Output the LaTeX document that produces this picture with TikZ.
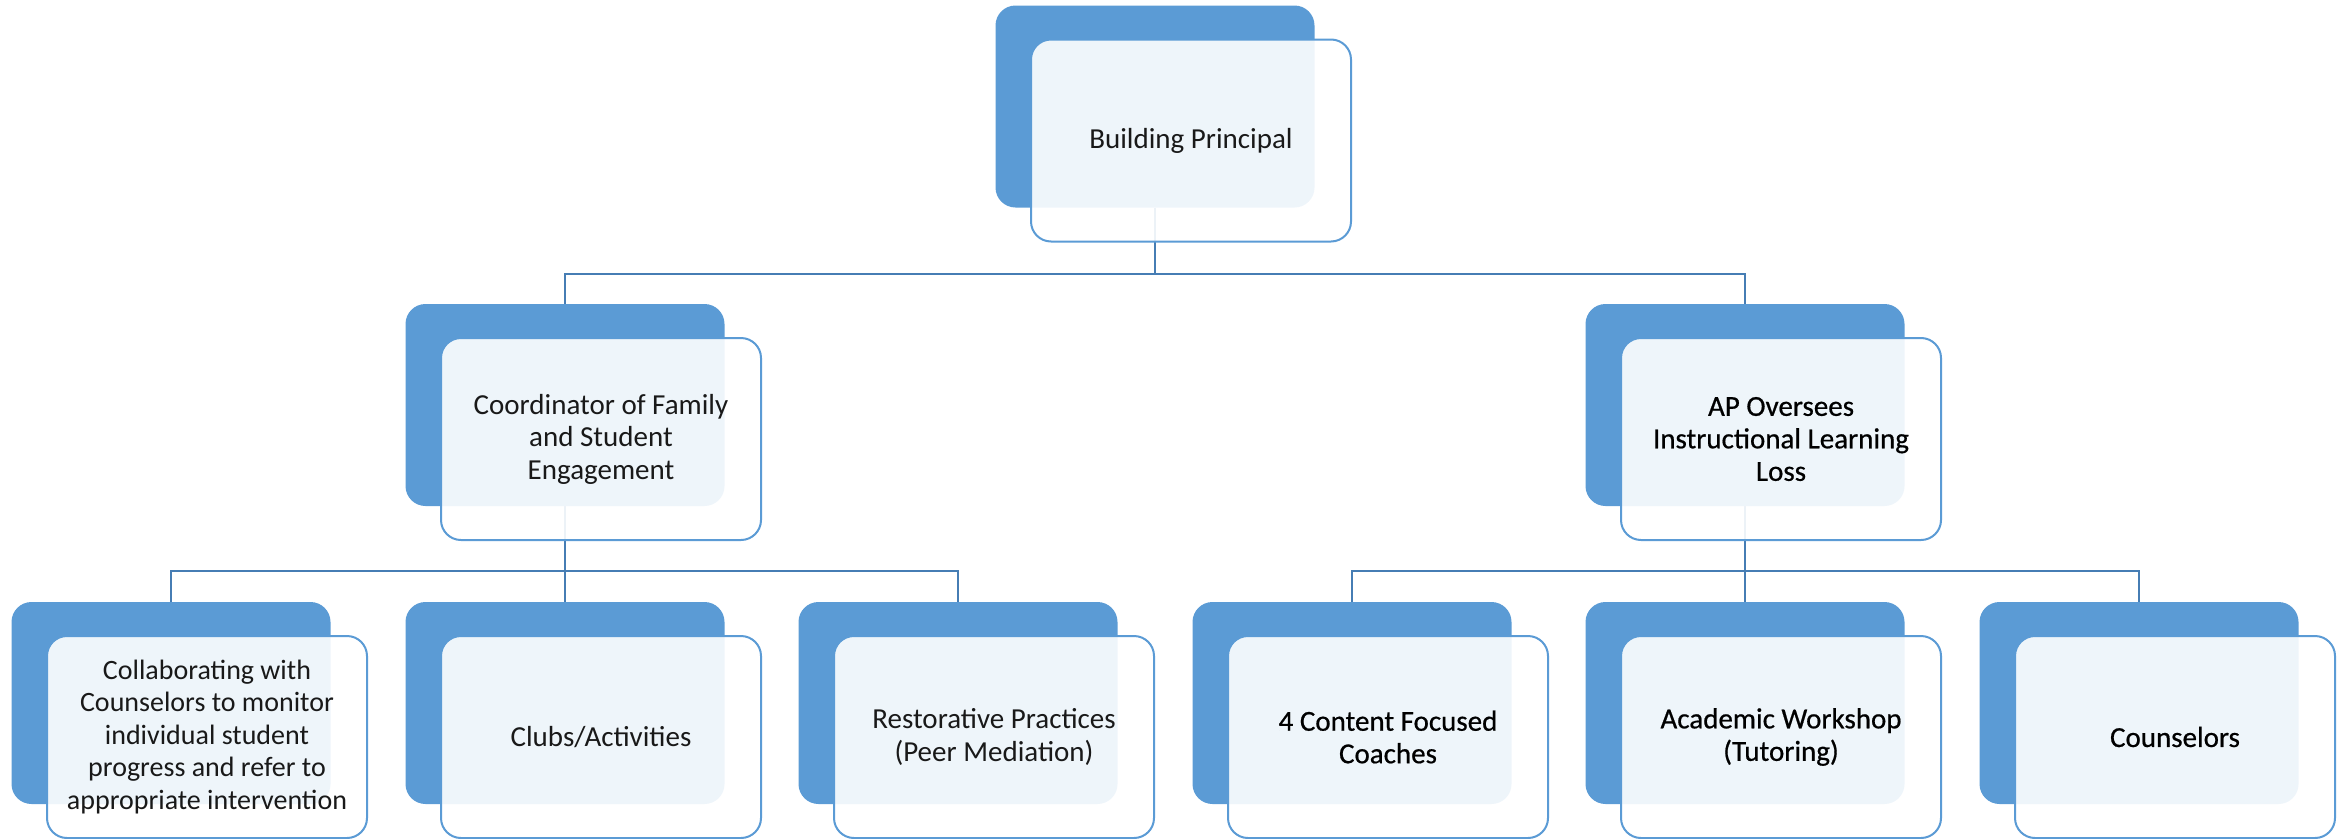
\documentclass[tikz,border=0pt]{standalone}
\usepackage{fontspec}
\setmainfont{Carlito}
\newfontfamily\heavyfont{Carlito}[FakeBold=0.6]
\definecolor{boxblue}{RGB}{91,155,213}
\definecolor{linkblue}{RGB}{70,125,180}
\definecolor{txtdark}{RGB}{0,0,0}
\definecolor{txtlight}{RGB}{25,25,25}
\pgfdeclarelayer{background}
\pgfsetlayers{background,main}
\begin{document}
\begin{tikzpicture}[x=1pt,y=-1pt,
  back/.style={fill=boxblue, rounded corners=20pt, minimum width=319pt, minimum height=202pt, inner sep=0pt},
  front/.style={draw=boxblue, line width=2pt, fill=white, fill opacity=0.9, text opacity=1, rounded corners=20pt, minimum width=320pt, minimum height=202pt, inner sep=0pt, align=center, font=\fontsize{29}{32.5}\selectfont},
  lighttext/.style={text=txtlight},
  darktext/.style={text=txtdark, font=\heavyfont\fontsize{29}{32.5}\selectfont},
  conn/.style={draw=linkblue, line width=2pt}]
\useasboundingbox (0,0) rectangle (2344,838);
% level 1
\node[back] (b1) at (1155,106.5) {};
\node[front, lighttext] (f1) at (1191,140.5) {Building Principal};
% level 2
\node[back] (b2) at (565,405) {};
\node[front, lighttext] (f2) at (601,439) {Coordinator of Family\\and Student\\Engagement};
\node[back] (b3) at (1745,405) {};
\node[front, darktext] (f3) at (1781,439) {AP Oversees\\Instructional Learning\\Loss};
% level 3
\node[back] (b4) at (171,703) {};
\node[front, lighttext, font=\fontsize{28}{32.5}\selectfont] (f4) at (207,737) {Collaborating with\\Counselors to monitor\\individual student\\progress and refer to\\appropriate intervention};
\node[back] (b5) at (565,703) {};
\node[front, lighttext] (f5) at (601,737) {Clubs/Activities};
\node[back] (b6) at (958,703) {};
\node[front, lighttext] (f6) at (994,737) {Restorative Practices\\(Peer Mediation)};
\node[back] (b7) at (1352,703) {};
\node[front, darktext] (f7) at (1388,737) {4 Content Focused\\Coaches};
\node[back] (b8) at (1745,703) {};
\node[front, darktext] (f8) at (1781,737) {Academic Workshop\\(Tutoring)};
\node[back] (b9) at (2139,703) {};
\node[front, darktext] (f9) at (2175,737) {Counselors};
% connectors
\begin{pgfonlayer}{background}
\draw[conn] (b1.south) -- ++(0,66) coordinate (j1);
\draw[conn] (j1) -| (b2.north);
\draw[conn] (j1) -| (b3.north);
\draw[conn] (b2.south) -- ++(0,65) coordinate (j2);
\draw[conn] (j2) -| (b4.north);
\draw[conn] (j2) -- (b5.north);
\draw[conn] (j2) -| (b6.north);
\draw[conn] (b3.south) -- ++(0,65) coordinate (j3);
\draw[conn] (j3) -| (b7.north);
\draw[conn] (j3) -- (b8.north);
\draw[conn] (j3) -| (b9.north);
\end{pgfonlayer}
\end{tikzpicture}
\end{document}
